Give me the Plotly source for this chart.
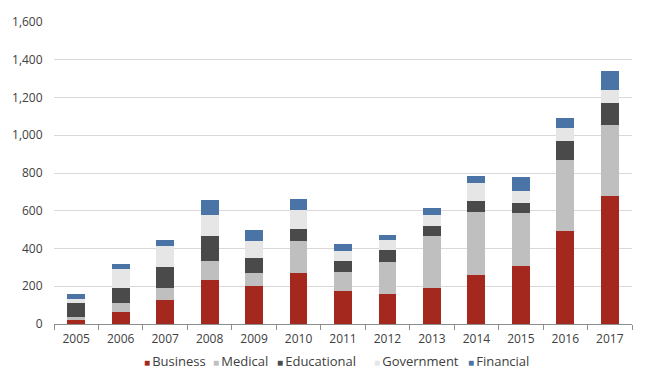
import plotly.graph_objects as go

years = ["2005", "2006", "2007", "2008", "2009", "2010", "2011", "2012", "2013", "2014", "2015", "2016", "2017"]
business = [21, 64, 127, 235, 200, 270, 175, 159, 193, 261, 309, 493, 680]
medical = [18, 46, 62, 101, 70, 168, 102, 168, 272, 334, 277, 376, 374]
educational = [74, 79, 113, 130, 78, 65, 59, 63, 52, 57, 57, 99, 117]
government = [21, 101, 110, 110, 90, 101, 53, 57, 62, 93, 63, 72, 70]
financial = [23, 30, 35, 81, 60, 58, 33, 23, 34, 39, 73, 53, 99]
y_ticks = [0, 200, 400, 600, 800, 1000, 1200, 1400, 1600]
y_tick_text = ["0", "200", "400", "600", "800", "1,000", "1,200", "1,400", "1,600"]

series = [
    ("Business", business, "#A5281E"),
    ("Medical", medical, "#BFBFBF"),
    ("Educational", educational, "#4A4A4A"),
    ("Government", government, "#E6E6E6"),
    ("Financial", financial, "#4A74A6"),
]

# the page body has an 8px default margin, so work in window pixels minus 8
OFF = 8
W, H = 660 - OFF, 371 - OFF
L = 54 - OFF
R = W - (632 - OFF)
T = 22 - OFF
B = 10
plot_w = W - L - R
plot_h = H - T - B
axis_bottom = 324 - OFF
y_dom0 = (H - B - axis_bottom) / plot_h

fig = go.Figure()
for name, vals, color in series:
    fig.add_trace(go.Bar(x=years, y=vals, name=name, showlegend=False,
                         marker=dict(color=color, line=dict(width=0))))

# legend drawn as text entries below the axis
legend_px = [142, 211, 275, 372, 466]
legend_y = 361 - OFF
for (name, vals, color), px in zip(series, legend_px):
    fig.add_annotation(
        xref="paper", yref="paper", x=(px - OFF - L) / plot_w, y=(H - B - legend_y) / plot_h,
        xanchor="left", yanchor="middle", showarrow=False,
        text=f'<span style="color:{color};font-size:10px">■</span>\u2009{name}',
        font=dict(family="Open Sans, sans-serif", size=13, color="#404040"),
    )

font = dict(family="Open Sans, sans-serif", size=12, color="#404040")
fig.update_layout(
    barmode="stack",
    bargap=0.6,
    width=W, height=H,
    margin=dict(l=L, r=R, t=T, b=B, autoexpand=False),
    paper_bgcolor="white", plot_bgcolor="white",
    font=font,
    showlegend=False,
    xaxis=dict(type="category", showline=True, linecolor="#8C8C8C", linewidth=1,
               ticks="outside", tickson="boundaries", ticklen=5, tickcolor="#8C8C8C",
               showgrid=False, ticklabelstandoff=4, automargin=False),
    yaxis=dict(range=[0, 1600], domain=[y_dom0, 1], tickvals=y_ticks, ticktext=y_tick_text,
               showgrid=True, gridcolor="#D9D9D9", gridwidth=1, zeroline=False,
               ticks="outside", ticklen=8, tickcolor="rgba(0,0,0,0)", showline=False,
               automargin=False),
)
fig.write_html("out.html")
